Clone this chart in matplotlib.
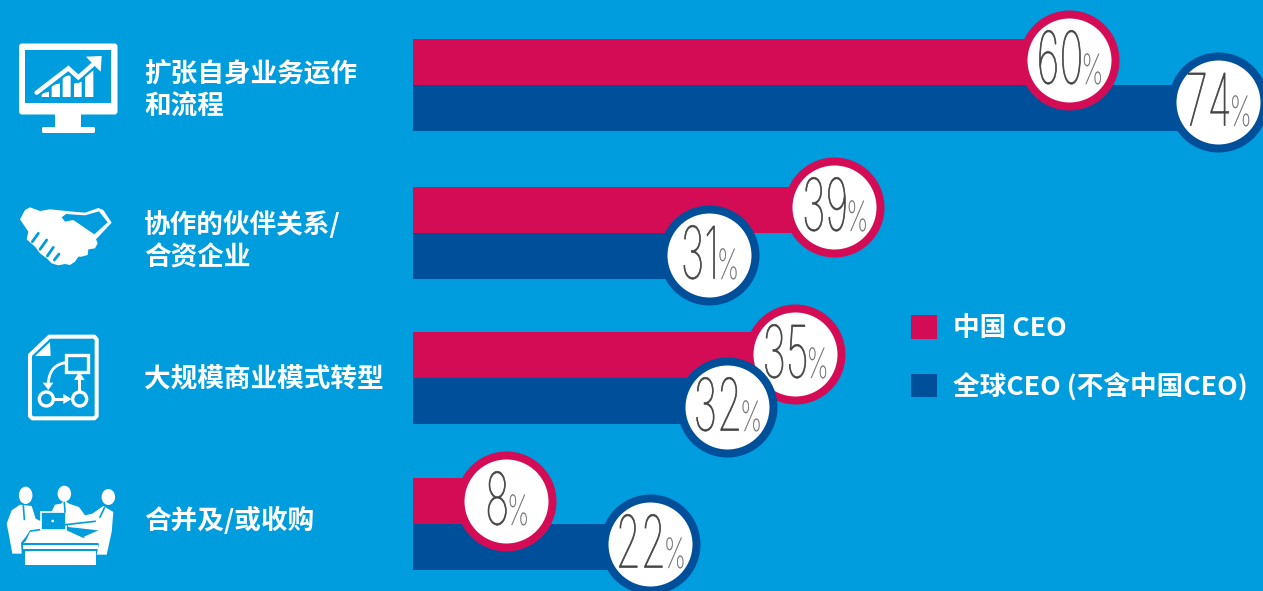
import matplotlib
matplotlib.use('Agg')
import numpy as np
import matplotlib.pyplot as plt
from matplotlib.patches import Circle, Ellipse, FancyBboxPatch, Polygon, Rectangle
from matplotlib.patheffects import AbstractPathEffect
from matplotlib.transforms import Affine2D

plt.rcParams['font.family'] = ['Noto Sans CJK SC', 'DejaVu Sans']

categories = ['扩张自身业务运作\n和流程', '协作的伙伴关系/\n合资企业', '大规模商业模式转型', '合并及/或收购']
china_ceo = [60, 39, 35, 8]
global_ceo = [74, 31, 32, 22]
series_names = ['中国 CEO', '全球CEO (不含中国CEO)']

BG = '#009DDE'
PINK = '#D40C56'
BLUE = '#004F9A'
W, H = 1263, 591
BAR_LEFT = 413
PX_PER_PCT = 10.9
BAR_H = 46
row_y = [85, 233, 378, 524]
label_y = [90, 241, 379, 521]

# badge shift from the bar tip, in pixels
china_shift = [(2, -2), (-4, -3), (0, -1), (6, 0)]
global_shift = [(-2, -6), (-42, -1), (-35, 6), (-3, -3)]

NUM_SX = 0.56
PCT_SX = 0.62
GAP = -2


class Condensed(AbstractPathEffect):
    # squeezes glyphs horizontally around a fixed pixel column, with a hairline stroke
    def __init__(self, x0, sx, lw):
        super().__init__()
        self.squeeze = Affine2D().translate(-x0, 0).scale(sx, 1).translate(x0, 0)
        self.lw = lw

    def draw_path(self, renderer, gc, tpath, affine, rgbFace=None):
        gc0 = renderer.new_gc()
        gc0.copy_properties(gc)
        gc0.set_foreground(rgbFace)
        gc0.set_linewidth(self.lw)
        renderer.draw_path(gc0, tpath, affine + self.squeeze, rgbFace)
        gc0.restore()


fig = plt.figure(figsize=(W / 100, H / 100), dpi=100, facecolor=BG)
ax = fig.add_axes([BAR_LEFT / W, 0, (W - BAR_LEFT) / W, 1])
ax.set_xlim(0, (W - BAR_LEFT) / PX_PER_PCT)
ax.set_ylim(H, 0)
ax.axis('off')

# overlay in pixel units for the pictograms and side text
ov = fig.add_axes([0, 0, 1, 1], zorder=-1)
ov.set_xlim(0, W)
ov.set_ylim(H, 0)
ov.axis('off')

rows = np.array(row_y)
bars_a = ax.barh(rows - BAR_H / 2, china_ceo, height=BAR_H, color=PINK, label=series_names[0], zorder=2)
bars_b = ax.barh(rows + BAR_H / 2, global_ceo, height=BAR_H, color=BLUE, label=series_names[1], zorder=2)

renderer = fig.canvas.get_renderer()


def badge(value, y, shift, color, z):
    x = value + shift[0] / PX_PER_PCT
    cy = y + shift[1]
    ax.plot([x], [cy], 'o', ms=92 * 0.72, mfc='white', mec=color, mew=8 * 0.72, clip_on=False, zorder=z)
    cx_px = ax.transData.transform((x, cy))[0]
    num = ax.text(x, cy + 23.5, str(value), fontsize=52, family=['Inter'], weight=100,
                  color='#444444', ha='left', va='baseline', zorder=z + 0.1)
    pct = ax.text(x, cy + 24, '%', fontsize=30, family=['Inter'], weight=100,
                  color='#666666', ha='left', va='baseline', zorder=z + 0.1)
    num_w = num.get_window_extent(renderer).width * NUM_SX
    pct_w = pct.get_window_extent(renderer).width * PCT_SX
    left = cx_px - (num_w + pct_w + GAP) / 2 + 1
    num.set_x(x + (left - cx_px) / PX_PER_PCT)
    pct.set_x(x + (left + num_w + GAP - cx_px) / PX_PER_PCT)
    num.set_path_effects([Condensed(left, NUM_SX, 0.5)])
    pct.set_path_effects([Condensed(left + num_w + GAP, PCT_SX, 0.2)])


for val, y, sh in zip(china_ceo, rows - BAR_H / 2, china_shift):
    badge(val, y, sh, PINK, 3)
for val, y, sh in zip(global_ceo, rows + BAR_H / 2, global_shift):
    badge(val, y, sh, BLUE, 4)

for lab, y in zip(categories, label_y):
    ov.text(144, y, lab, color='white', fontsize=19.2, weight='bold', ha='left', va='center', linespacing=1.28)

leg = ax.legend(handles=[bars_a, bars_b], loc='upper left', bbox_to_anchor=(911 / W, 1 - 315 / H),
                bbox_transform=fig.transFigure, frameon=False, prop={'size': 19.2, 'weight': 'bold'},
                labelcolor='white', handlelength=0.975, handleheight=0.975, handletextpad=0.59,
                labelspacing=1.13, borderpad=0, borderaxespad=0)


def z1(pts):
    return [(x / 3, y / 3 + 20) for x, y in pts]


def z2(pts):
    return [(x / 3, y / 3 + 320) for x, y in pts]


def hs(pts):
    return [(x / 3 + 15, y / 3 + 200) for x, y in pts]


def pp(pts):
    return [(x / 3 + 5, y / 3 + 482) for x, y in pts]


def fill(pts, color='white', z=2):
    ov.add_patch(Polygon(pts, closed=True, fc=color, ec='none', zorder=z))


def rrect(x0, y0, x1, y1, r=1.5, **kw):
    ov.add_patch(FancyBboxPatch((x0 + r, y0 + r), x1 - x0 - 2 * r, y1 - y0 - 2 * r,
                                boxstyle=f'round,pad={r}', **kw))


# monitor with rising chart
rrect(19, 43.5, 117.5, 114.5, r=3, fc='white', ec='none', zorder=2)
ov.add_patch(Rectangle((25, 50), 86, 52.5, fc=BG, ec='none', zorder=3))
ov.add_patch(Rectangle((55, 114), 26, 14, fc='white', ec='none', zorder=2))
rrect(42, 127, 95, 133, r=1.5, fc='white', ec='none', zorder=2)
for x0, x1, top in [(125, 147, 215), (155, 180, 190), (188, 212, 165), (222, 245, 185), (255, 280, 150)]:
    fill(z1([(x0, 231), (x1, 231), (x1, top), (x0, top + 6)]), z=4)
line = z1([(110, 218), (205, 145), (235, 172), (292, 122)])
ov.plot(*zip(*line), color=BG, lw=6.5, solid_joinstyle='miter', solid_capstyle='butt', zorder=5)
ov.plot(*zip(*line), color='white', lw=3.2, solid_joinstyle='miter', solid_capstyle='round', zorder=6)
fill(z1([(258, 110), (305, 108), (302, 155), (286, 140), (272, 125)]), z=6)

# handshake
fill(hs([(15, 58), (30, 30), (45, 22), (75, 33), (105, 28), (175, 35), (210, 38), (250, 24), (265, 30),
         (290, 68), (243, 118), (248, 130), (240, 145), (220, 148), (218, 165), (200, 170), (190, 170),
         (180, 185), (165, 195), (150, 192), (130, 196), (110, 190), (95, 175), (75, 160), (60, 140),
         (35, 118), (40, 95)]))
fill(hs([(140, 52), (153, 42), (210, 46), (252, 34), (278, 67), (238, 103), (175, 60), (150, 65)]), color=BG, z=3)
for a, b in [((70, 100), (52, 125)), ((95, 120), (75, 148)), ((115, 142), (97, 168)), ((132, 162), (118, 180))]:
    ov.plot(*zip(*hs([a, b])), color=BG, lw=2.0, solid_capstyle='round', zorder=3)

# process document
doc = z2([(90, 105), (148, 50), (283, 50), (290, 58), (290, 288), (283, 295), (97, 295), (90, 288)])
ov.add_patch(Polygon(doc, closed=True, fc='none', ec='white', lw=2.9, joinstyle='round', zorder=2))
fill(z2([(105, 108), (150, 66), (152, 108)]), z=2)
ov.add_patch(Polygon(z2([(197, 105), (263, 105), (263, 155), (197, 155)]), closed=True, fc='none',
                     ec='white', lw=2.4, zorder=2))
for cx in (139, 239):
    xy = z2([(cx, 237)])[0]
    ov.add_patch(Circle(xy, 7, fc='none', ec='white', lw=2.4, zorder=2))
ov.plot(*zip(*z2([(165, 237), (195, 237)])), color='white', lw=2.2, zorder=2)
fill(z2([(190, 222), (215, 237), (190, 252)]))
ov.plot(*zip(*z2([(238, 212), (238, 175)])), color='white', lw=2.2, zorder=2)
fill(z2([(222, 180), (238, 155), (254, 180)]))
t = np.linspace(0, 1, 20)
curve = z2(list(zip((1 - t) ** 2 * 197 + 2 * t * (1 - t) * 148 + t ** 2 * 145,
                    (1 - t) ** 2 * 128 + 2 * t * (1 - t) * 135 + t ** 2 * 190)))
ov.plot(*zip(*curve), color='white', lw=2, zorder=2)
fill(z2([(128, 188), (160, 188), (145, 210)]))

# meeting around a table
for cx, cy, ry in [(62, 40, 26), (178, 35, 24), (310, 45, 24)]:
    ov.add_patch(Ellipse(pp([(cx, cy)])[0], 13.5, ry * 2 / 3, fc='white', ec='none', zorder=2))
fill(pp([(5, 125), (20, 85), (45, 68), (80, 72), (92, 110), (108, 118), (108, 140), (75, 145),
         (62, 165), (48, 182), (50, 215), (22, 215), (12, 160)]))
fill(pp([(140, 88), (150, 68), (168, 65), (178, 55), (192, 65), (222, 75), (240, 100), (262, 95),
         (295, 72), (325, 90), (320, 150), (305, 218), (275, 218), (282, 185), (235, 165),
         (280, 145), (190, 135), (182, 115), (180, 90)]))
fill(pp([(62, 178), (75, 150), (108, 145), (185, 145), (235, 168), (275, 165), (280, 183), (55, 183)]))
ov.add_patch(Rectangle(pp([(55, 190)])[0], 75, 4, fc='white', ec='none', zorder=2))
ov.add_patch(Rectangle(pp([(60, 206)])[0], 71, 14, fc='white', ec='none', zorder=2))
ov.add_patch(Rectangle(pp([(108, 90)])[0], 24.7, 18.3, fc=BG, ec='white', lw=1.2, zorder=3))
ov.add_patch(Circle(pp([(143, 117)])[0], 1.3, fc='white', ec='none', zorder=5))
for a, b in [((55, 72), (58, 112)), ((178, 62), (180, 90)), ((298, 78), (285, 105)), ((182, 128), (270, 118))]:
    ov.plot(*zip(*pp([a, b])), color=BG, lw=1.2, zorder=3)

fig.savefig('out.png', dpi=100, facecolor=BG)
